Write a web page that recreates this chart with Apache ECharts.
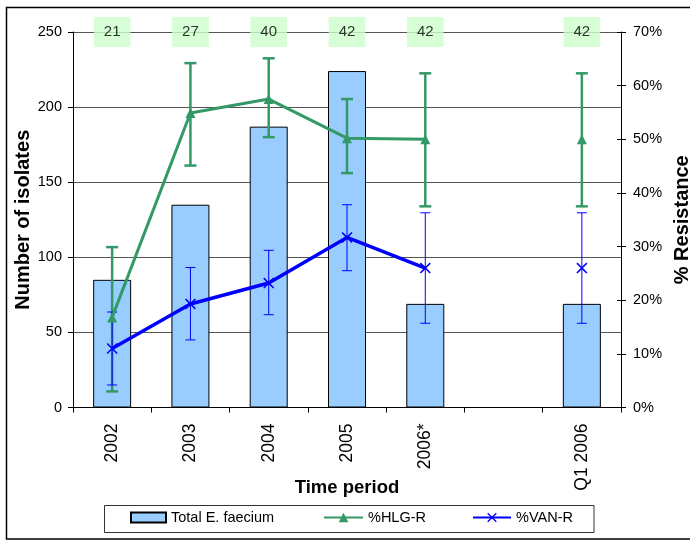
<!DOCTYPE html>
<html>
<head>
<meta charset="utf-8">
<title>E. faecium isolates and resistance</title>
<script src="https://cdn.jsdelivr.net/npm/echarts@6/dist/echarts.min.js"></script>
<style>
  html, body { margin: 0; padding: 0; background: #fff; }
  #chart { width: 690px; height: 544px; }
</style>
</head>
<body>
<div id="chart"></div>
<script>
// Time periods (one empty slot separates the full years from Q1 2006)
const categories = ['2002', '2003', '2004', '2005', '2006*', '', 'Q1 2006'];

// Number of isolates (bars, left axis)
const isolates = [85, 135, 187, 224, 69, null, 69];

// Sample sizes shown in the boxes along the top
const sampleN = [21, 27, 40, 42, 42, null, 42];

// % high-level gentamicin resistance with lower / upper limits
const hlgPct  = [16.8, 54.9, 57.5, 50.2, 50.0, null, 50.0];
const hlgLow  = [3.0, 45.1, 50.4, 43.7, 37.5, null, 37.5];
const hlgHigh = [29.9, 64.2, 65.1, 57.5, 62.3, null, 62.3];

// % vancomycin resistance with lower / upper limits
const vanPct  = [11.0, 19.3, 23.2, 31.7, 26.0, null, 26.0];
const vanLow  = [4.2, 12.6, 17.3, 25.5, 15.7, null, 15.7];
const vanHigh = [17.8, 26.1, 29.3, 37.8, 36.3, null, 36.3];

// Axis ranges
const countMax = 250, countStep = 50;
const pctMax = 70, pctStep = 10;

const FONT = '"Liberation Sans", Arial, sans-serif';
const GREEN = '#339966';
const BLUE = '#0000FF';

function rangeData(low, high) {
  const out = [];
  low.forEach((v, i) => { if (v != null) out.push([i, v, high[i]]); });
  return out;
}

function errorBarRenderer(color, width, capHalf) {
  return function (params, api) {
    const lo = api.coord([api.value(0), api.value(1)]);
    const hi = api.coord([api.value(0), api.value(2)]);
    const x = lo[0];
    const style = { stroke: color, lineWidth: width };
    return {
      type: 'group',
      children: [
        { type: 'line', shape: { x1: x, y1: lo[1], x2: x, y2: hi[1] }, style: style },
        { type: 'line', shape: { x1: x - capHalf, y1: hi[1], x2: x + capHalf, y2: hi[1] }, style: style },
        { type: 'line', shape: { x1: x - capHalf, y1: lo[1], x2: x + capHalf, y2: lo[1] }, style: style }
      ]
    };
  };
}

const crossSymbol = 'path://M0,1L1,0L5,4L9,0L10,1L6,5L10,9L9,10L5,6L1,10L0,9L4,5Z';

const legendBase = {
  top: 510, padding: 0, itemGap: 0,
  textStyle: { fontFamily: FONT, fontSize: 14.5, color: '#000' }
};

const titleStyle = { fontFamily: FONT, fontSize: 20, fontWeight: 'bold', color: '#000' };

const chart = echarts.init(document.getElementById('chart'), null, { renderer: 'canvas' });

chart.setOption({
  animation: false,
  backgroundColor: '#fff',
  textStyle: { fontFamily: FONT },
  grid: { left: 73, right: 69, top: 32, bottom: 136.5, containLabel: false, outerBoundsMode: 'none' },
  graphic: [
    { type: 'rect', z: -1, shape: { x: 6.5, y: 7.5, width: 720, height: 531.5 },
      style: { fill: 'none', stroke: '#000', lineWidth: 1.5 } },
    { type: 'rect', shape: { x: 104.5, y: 505.5, width: 489.5, height: 27 },
      style: { fill: '#fff', stroke: '#333', lineWidth: 1 } }
  ],
  legend: [
    Object.assign({}, legendBase, { left: 130, data: [{ name: 'Total E. faecium', icon: 'rect' }], itemWidth: 35, itemHeight: 10 }),
    Object.assign({}, legendBase, { left: 323, data: ['%HLG-R'], itemWidth: 39, itemHeight: 12 }),
    Object.assign({}, legendBase, { left: 472, data: ['%VAN-R'], itemWidth: 38, itemHeight: 12 })
  ],
  xAxis: {
    type: 'category',
    data: categories,
    boundaryGap: true,
    name: 'Time period',
    nameLocation: 'middle',
    nameGap: 71,
    nameMoveOverlap: false,
    nameTextStyle: { fontFamily: FONT, fontSize: 18.5, fontWeight: 'bold', color: '#000' },
    axisLine: { lineStyle: { color: '#000', width: 1 } },
    axisTick: { show: true, length: 5, lineStyle: { color: '#000' } },
    axisLabel: { rotate: 90, interval: 0, margin: 16, fontSize: 17.5, color: '#000', fontFamily: FONT },
    splitLine: { show: false }
  },
  yAxis: [
    {
      type: 'value',
      min: 0, max: countMax, interval: countStep,
      name: 'Number of isolates',
      nameLocation: 'middle',
      nameRotate: 90,
      nameGap: 40,
      nameMoveOverlap: false,
      nameTextStyle: titleStyle,
      axisLine: { show: true, lineStyle: { color: '#000' } },
      axisTick: { show: true, length: 5, lineStyle: { color: '#000' } },
      axisLabel: { fontSize: 14.5, color: '#000', margin: 11, fontFamily: FONT },
      splitLine: { show: true, lineStyle: { color: '#555', width: 1 } }
    },
    {
      type: 'value',
      position: 'right',
      min: 0, max: pctMax, interval: pctStep,
      name: '% Resistance',
      nameLocation: 'middle',
      nameRotate: 90,
      nameGap: 51,
      nameMoveOverlap: false,
      nameTextStyle: titleStyle,
      axisLine: { show: true, lineStyle: { color: '#000' } },
      axisTick: { show: true, length: 5, lineStyle: { color: '#000' } },
      axisLabel: { formatter: '{value}%', fontSize: 14.5, color: '#000', margin: 12, fontFamily: FONT },
      splitLine: { show: false }
    },
    {
      // inner half of the crossing tick marks on the percentage axis
      type: 'value',
      position: 'right',
      min: 0, max: pctMax, interval: pctStep,
      axisLine: { show: false },
      axisTick: { show: true, inside: true, length: 4, lineStyle: { color: '#000' } },
      axisLabel: { show: false },
      splitLine: { show: false }
    }
  ],
  series: [
    {
      name: 'Total E. faecium',
      type: 'bar',
      yAxisIndex: 0,
      data: isolates,
      barWidth: 38,
      itemStyle: { color: '#99CCFF', borderColor: '#000', borderWidth: 1 },
      z: 2
    },
    {
      name: 'hlg-range',
      type: 'custom',
      yAxisIndex: 1,
      renderItem: errorBarRenderer(GREEN, 2.5, 6),
      data: rangeData(hlgLow, hlgHigh),
      encode: { x: 0, y: [1, 2] },
      z: 3,
      silent: true
    },
    {
      name: 'van-range',
      type: 'custom',
      yAxisIndex: 1,
      renderItem: errorBarRenderer(BLUE, 1, 5),
      data: rangeData(vanLow, vanHigh),
      encode: { x: 0, y: [1, 2] },
      z: 3,
      silent: true
    },
    {
      name: '%HLG-R',
      type: 'line',
      yAxisIndex: 1,
      data: hlgPct,
      connectNulls: false,
      symbol: 'triangle',
      symbolSize: 10,
      showAllSymbol: true,
      lineStyle: { color: GREEN, width: 3 },
      itemStyle: { color: GREEN },
      z: 4
    },
    {
      name: '%VAN-R',
      type: 'line',
      yAxisIndex: 1,
      data: vanPct,
      connectNulls: false,
      symbol: crossSymbol,
      symbolSize: 11,
      showAllSymbol: true,
      lineStyle: { color: BLUE, width: 3.5 },
      itemStyle: { color: BLUE },
      z: 5
    },
    {
      name: 'sample-size',
      type: 'scatter',
      yAxisIndex: 0,
      data: sampleN.map((n, i) => (n == null ? null : [i, countMax])),
      symbolSize: 1,
      itemStyle: { color: 'rgba(0,0,0,0)' },
      clip: false,
      silent: true,
      z: 6,
      label: {
        show: true,
        position: 'inside',
        formatter: p => String(sampleN[p.dataIndex]),
        fontFamily: FONT,
        fontSize: 15,
        color: '#000',
        backgroundColor: '#CCFFCC',
        padding: [7, 10, 6, 10],
        lineHeight: 17
      }
    }
  ]
});
</script>
</body>
</html>
